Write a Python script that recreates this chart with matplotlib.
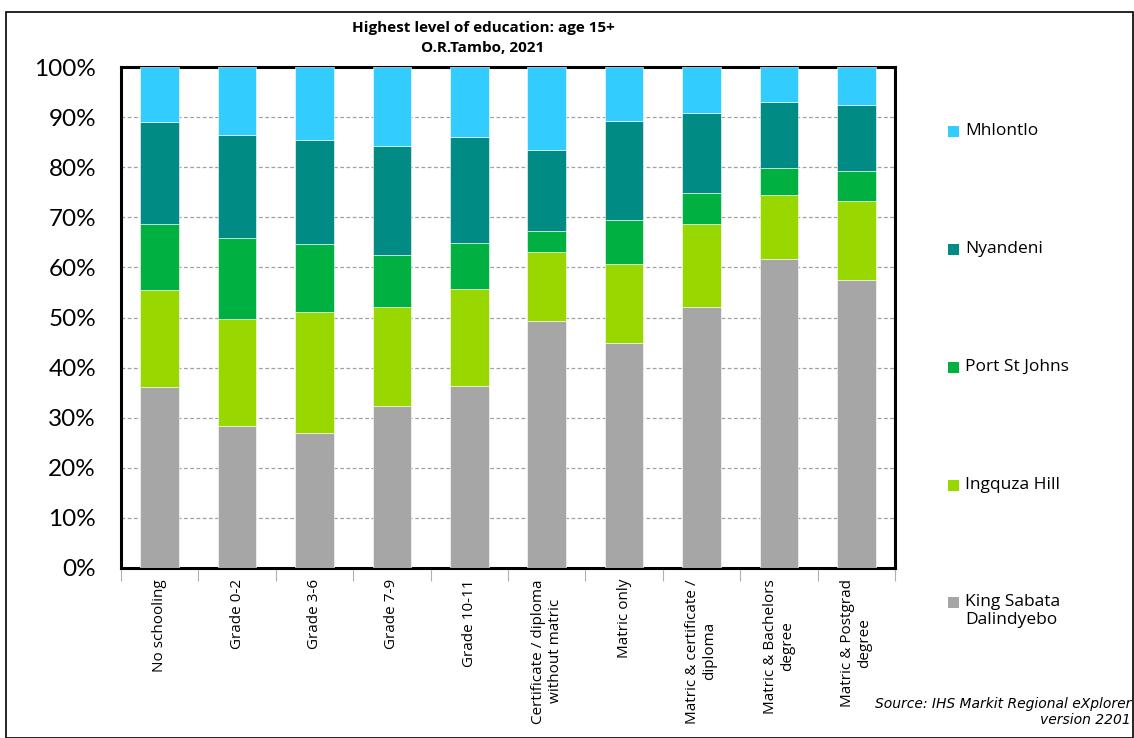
import matplotlib
matplotlib.use("Agg")
import matplotlib.pyplot as plt
from matplotlib.patches import Rectangle
from matplotlib.ticker import FixedLocator, PercentFormatter
import numpy as np

categories = ["No schooling", "Grade 0-2", "Grade 3-6", "Grade 7-9", "Grade 10-11",
              "Certificate / diploma\nwithout matric", "Matric only",
              "Matric & certificate /\ndiploma", "Matric & Bachelors\ndegree",
              "Matric & Postgrad\ndegree"]

# shares in percent (bottom to top)
king_sabata = [36.1, 28.3, 26.9, 32.3, 36.3, 49.3, 45.0, 52.0, 61.6, 57.5]
ingquza_hill = [19.3, 21.5, 24.2, 19.7, 19.4, 13.7, 15.6, 16.7, 12.8, 15.8]
port_st_johns = [13.3, 16.1, 13.6, 10.5, 9.1, 4.3, 8.8, 6.2, 5.5, 5.9]
nyandeni = [20.4, 20.5, 20.7, 21.7, 21.3, 16.1, 19.8, 16.0, 13.2, 13.3]
mhlontlo = [10.9, 13.6, 14.6, 15.8, 13.9, 16.6, 10.8, 9.1, 6.9, 7.5]

series_names = ["King Sabata\nDalindyebo", "Ingquza Hill", "Port St Johns", "Nyandeni", "Mhlontlo"]
series_values = [king_sabata, ingquza_hill, port_st_johns, nyandeni, mhlontlo]
series_colors = ["#A6A6A6", "#99D700", "#00B040", "#008B85", "#33CCFF"]

W, H = 1134, 738
fig = plt.figure(figsize=(W / 100, H / 100), dpi=100)
fig.patch.set_facecolor("white")

# outer border
fig.patches.append(Rectangle((6 / W, 0.5 / H), (W - 7) / W, (H - 12.5) / H,
                             transform=fig.transFigure, fill=False,
                             edgecolor="black", linewidth=1.2))

ax = fig.add_axes([121 / W, (H - 568) / H, 774 / W, 501 / H])
x = np.arange(len(categories))
bottom = np.zeros(len(categories))
for name, vals, col in zip(series_names, series_values, series_colors):
    vals = np.array(vals)
    ax.bar(x, vals, 0.5, bottom=bottom, color=col, edgecolor="white",
           linewidth=0.4, zorder=3)
    bottom += vals

ax.set_xlim(-0.5, len(categories) - 0.5)
ax.set_ylim(0, 100)
ax.yaxis.set_major_locator(FixedLocator(np.arange(0, 101, 10)))
ax.yaxis.set_major_formatter(PercentFormatter(decimals=0))
ax.grid(axis="y", linestyle=(0, (3, 2)), color="#A0A0A0", linewidth=0.9, zorder=0)
for sp in ax.spines.values():
    sp.set_linewidth(2.2)
    sp.set_color("black")

ax.tick_params(axis="y", length=0, pad=18, labelsize=17.5)
for lab in ax.get_yticklabels():
    lab.set_fontfamily("Lato")

ax.set_xticks(x)
ax.set_xticklabels(categories, rotation=90, fontsize=11, fontfamily="Open Sans",
                   va="top", ha="center", multialignment="center")
ax.tick_params(axis="x", which="major", length=0, pad=8)
ax.set_xticks(np.arange(-0.5, len(categories), 1), minor=True)
ax.tick_params(axis="x", which="minor", length=9, color="#B0B0B0", width=0.8)

fig.text(483 / W, 1 - 28 / H, "Highest level of education: age 15+",
         ha="center", va="center", fontsize=11, fontweight="bold", fontfamily="Open Sans")
fig.text(483 / W, 1 - 48 / H, "O.R.Tambo, 2021",
         ha="center", va="center", fontsize=11, fontweight="bold", fontfamily="Open Sans")

# legend (manual placement, top to bottom)
leg_y = [603, 486, 368, 250, 132]
for name, col, yy in zip(series_names, series_colors, leg_y):
    fig.patches.append(Rectangle((948 / W, 1 - (yy + 5) / H), 11 / W, 11 / H,
                                 transform=fig.transFigure, facecolor=col,
                                 edgecolor="none"))
    fig.text(965 / W, 1 - (yy - 9) / H, name, ha="left", va="top",
             fontsize=12.5, fontfamily="Open Sans", linespacing=1.15)

fig.text(1131 / W, 1 - 704 / H, "Source: IHS Markit Regional eXplorer",
         ha="right", va="center", fontsize=10, style="italic", fontfamily="DejaVu Sans")
fig.text(1131 / W, 1 - 720 / H, "version 2201",
         ha="right", va="center", fontsize=10, style="italic", fontfamily="DejaVu Sans")

fig.savefig("out.png", dpi=100, facecolor="white")
